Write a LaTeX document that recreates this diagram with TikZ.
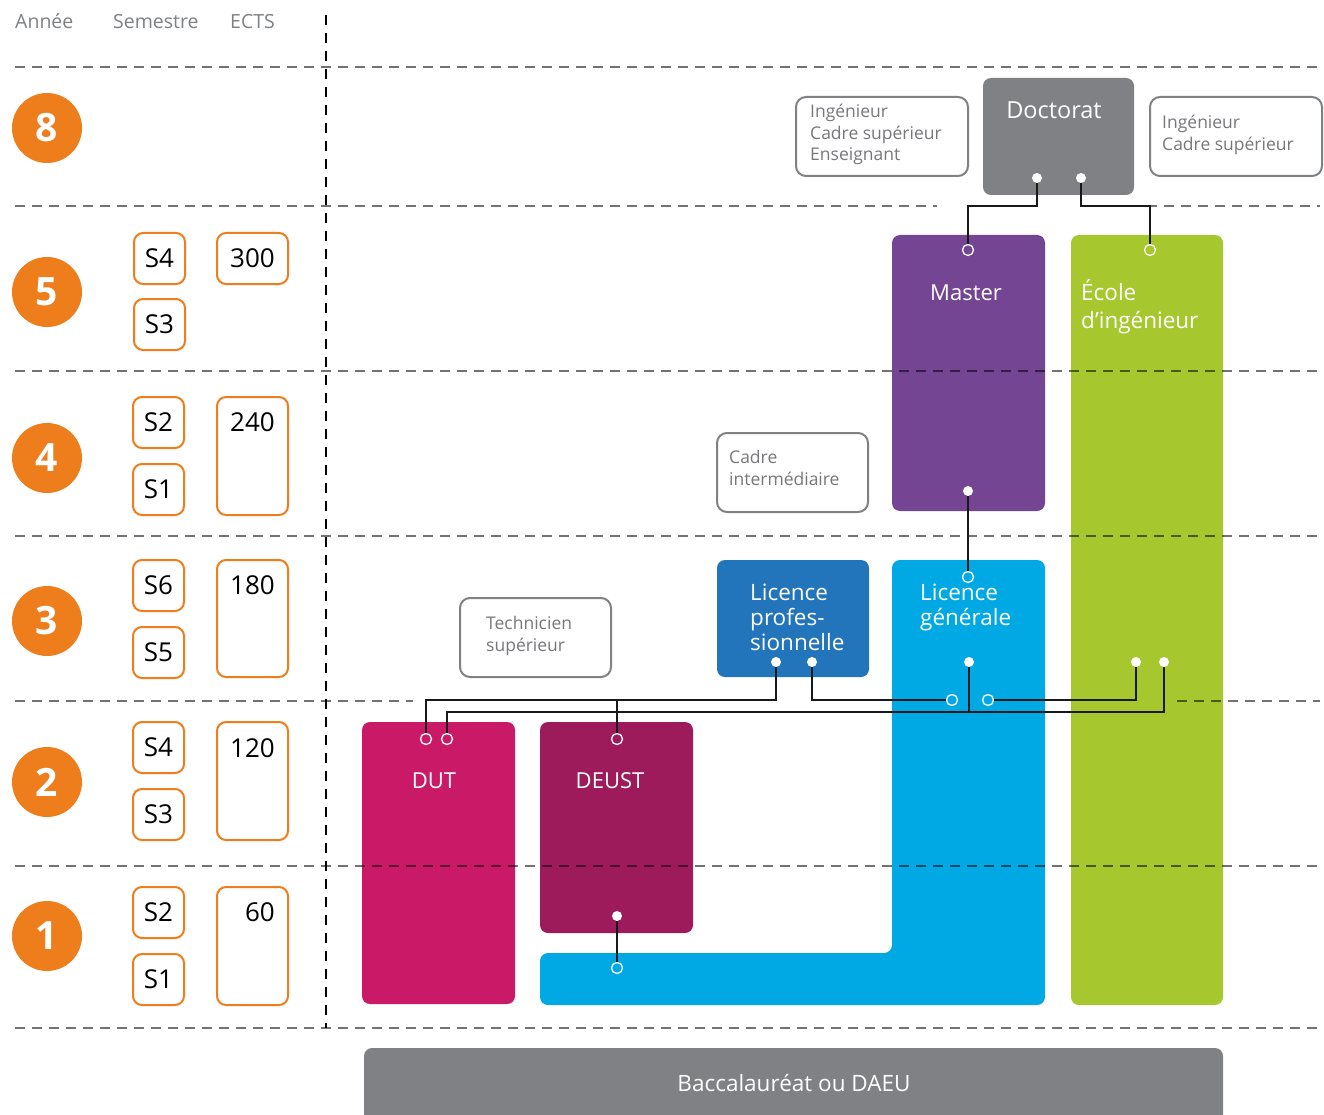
\documentclass[tikz,border=0pt]{standalone}
\usepackage{fontspec}
\setmainfont{Open Sans}
\usetikzlibrary{fit}
\definecolor{cgray}{HTML}{7F8184}
\definecolor{cpurple}{HTML}{744592}
\definecolor{cgreen}{HTML}{A6C72E}
\definecolor{cblue}{HTML}{2274BB}
\definecolor{ccyan}{HTML}{00A9E3}
\definecolor{cmag}{HTML}{CA1A67}
\definecolor{cwine}{HTML}{9D1B5A}
\definecolor{corange}{HTML}{EE7D1B}
\definecolor{ctext}{HTML}{77787B}
\newcommand\fsz[1]{\fontsize{#1}{#1}\selectfont}
\tikzset{
  dline/.style={draw=black, draw opacity=0.55, line width=1.5pt, dash pattern=on 10pt off 7pt},
  vline/.style={draw=black, line width=1.2pt, dash pattern=on 10pt off 8pt},
  yearc/.style={circle, fill=corange, minimum size=70pt, inner sep=0pt, text=white, font=\fsz{39}\bfseries},
  sbox/.style={draw=corange, line width=2pt, rounded corners=9pt, minimum width=51pt, minimum height=51pt, inner sep=0pt, font=\fsz{26}},
  ectsbox/.style={draw=corange, line width=2pt, rounded corners=9pt, inner sep=0pt},
  ectstxt/.style={anchor=base east, inner sep=0pt, font=\fsz{26}},
  colbox/.style={fill=#1, rounded corners=8pt, inner sep=0pt},
  outbox/.style={draw=cgray, line width=2pt, rounded corners=10pt, inner sep=0pt},
  outtxt/.style={anchor=base west, inner sep=0pt, text=ctext, font=\fsz{17.5}},
  headtxt/.style={anchor=base west, inner sep=0pt, text=cgray, font=\fsz{19.5}},
  wtxt/.style={anchor=base west, inner sep=0pt, text=white, font=\fsz{22.5}},
  wtxtc/.style={anchor=base, inner sep=0pt, text=white, font=\fsz{22}},
  dotf/.style={circle, fill=white, inner sep=0pt, minimum size=10pt},
  doto/.style={circle, draw=white, line width=1.3pt, inner sep=0pt, minimum size=11pt},
  conn/.style={draw=black!90, line width=1.8pt},
}
\begin{document}
\begin{tikzpicture}[x=1pt,y=-1pt]
\clip (0,0) rectangle (1324,1115);
\fill[white] (0,0) rectangle (1324,1115);

% header
\node[headtxt] (hA) at (15,29) {Année};
\node[headtxt] (hS) at (113,29) {Semestre};
\node[headtxt] (hE) at (230,29) {ECTS};

% year circles
\node[yearc] (y8) at (47,128) {8};
\node[yearc] (y5) at (47,292) {5};
\node[yearc] (y4) at (47,458) {4};
\node[yearc] (y3) at (47,621) {3};
\node[yearc] (y2) at (47,782) {2};
\node[yearc] (y1) at (47,936) {1};

% semesters
\node[sbox] (s5a) at (159.5,258.5) {S4};
\node[sbox] (s5b) at (159.5,324.5) {S3};
\node[sbox] (s4a) at (158.5,422.5) {S2};
\node[sbox] (s4b) at (158.5,489.5) {S1};
\node[sbox] (s3a) at (158.5,585.5) {S6};
\node[sbox] (s3b) at (158.5,652.5) {S5};
\node[sbox] (s2a) at (158.5,747.5) {S4};
\node[sbox] (s2b) at (158.5,814.5) {S3};
\node[sbox] (s1a) at (158.5,912.5) {S2};
\node[sbox] (s1b) at (158.5,979.5) {S1};

% ECTS
\node[ectsbox, fit={(217,233) (288,284)}] (e5) {};
\node[ectsbox, fit={(217,397) (288,515)}] (e4) {};
\node[ectsbox, fit={(217,560) (288,677)}] (e3) {};
\node[ectsbox, fit={(217,722) (288,840)}] (e2) {};
\node[ectsbox, fit={(217,887) (288,1005)}] (e1) {};
\node[ectstxt] (t5) at (275,268) {300};
\node[ectstxt] (t4) at (275,431) {240};
\node[ectstxt] (t3) at (275,594) {180};
\node[ectstxt] (t2) at (275,757) {120};
\node[ectstxt] (t1) at (275,921) {60};

% coloured boxes
\node[colbox=cgray, fit={(983,78) (1134,195)}] (doc) {};
\node[colbox=cpurple, fit={(892,235) (1045,511)}] (master) {};
\node[colbox=cgreen, fit={(1071,235) (1223,1005)}] (ecole) {};
\node[colbox=cblue, fit={(717,560) (869,677)}] (lp) {};
\node[colbox=cmag, fit={(362,722) (515,1004)}] (dut) {};
\node[colbox=cwine, fit={(540,722) (693,933)}] (deust) {};
\node[colbox=cgray, fit={(364,1048) (1223,1140)}] (bac) {};
\fill[ccyan, rounded corners=8pt] (892,560) -- (1045,560) -- (1045,1005) -- (540,1005) -- (540,953) -- (892,953) -- cycle;

% texts in coloured boxes
\node[wtxtc, font=\fsz{23.5}] (tdoc) at (1054,119) {Doctorat};
\node[wtxtc] (tmas) at (966,300) {Master};
\node[wtxt] (tec1) at (1081,300) {École};
\node[wtxt] (tec2) at (1081,328) {d’ingénieur};
\node[wtxt] (tlp1) at (750,600) {Licence};
\node[wtxt] (tlp2) at (750,625) {profes-};
\node[wtxt] (tlp3) at (750,650) {sionnelle};
\node[wtxt] (tlg1) at (920,600) {Licence};
\node[wtxt] (tlg2) at (920,625) {générale};
\node[wtxtc] (tdut) at (434,788) {DUT};
\node[wtxtc] (tdeu) at (610,788) {DEUST};
\node[wtxtc, font=\fsz{22.5}] (tbac) at (794,1091) {Baccalauréat ou DAEU};

% outline boxes
\node[outbox, fit={(796,97) (968,176)}] (ob1) {};
\node[outbox, fit={(1150,97) (1322,176)}] (ob2) {};
\node[outbox, fit={(717,433) (868,512)}] (ob3) {};
\node[outbox, fit={(460,598) (611,677)}] (ob4) {};
\node[outtxt] (o11) at (810,118) {Ingénieur};
\node[outtxt] (o12) at (810,140) {Cadre supérieur};
\node[outtxt] (o13) at (810,161) {Enseignant};
\node[outtxt] (o21) at (1162,129) {Ingénieur};
\node[outtxt] (o22) at (1162,151) {Cadre supérieur};
\node[outtxt] (o31) at (729,463) {Cadre};
\node[outtxt] (o32) at (729,485) {intermédiaire};
\node[outtxt] (o41) at (486,629) {Technicien};
\node[outtxt] (o42) at (486,651) {supérieur};

% dashed grid
\draw[vline] (326,15) -- (326,1028);
\draw[dline] (15,67) -- (1320,67);
\draw[dline] (15,206) -- (937,206);
\draw[dline] (1147,206) -- (1320,206);
\draw[dline] (15,371) -- (1320,371);
\draw[dline] (15,536) -- (1320,536);
\draw[dline] (15,701) -- (413,701);
\draw[dline] (1177,701) -- (1320,701);
\draw[dline] (15,866) -- (1320,866);
\draw[dline] (15,1028) -- (1320,1028);

% dots
\node[dotf] (dd1) at (1037,178) {};
\node[dotf] (dd2) at (1081,178) {};
\node[doto] (mo) at (968,250) {};
\node[dotf] (mf) at (968,491) {};
\node[doto] (eo) at (1150,250) {};
\node[dotf] (ef1) at (1136,662) {};
\node[dotf] (ef2) at (1164,662) {};
\node[dotf] (lpf1) at (776,662) {};
\node[dotf] (lpf2) at (812,662) {};
\node[doto] (lgo) at (968,577) {};
\node[dotf] (lgf) at (969,662) {};
\node[doto] (lgo1) at (952,700) {};
\node[doto] (lgo2) at (988,700) {};
\node[doto] (duo1) at (426,739) {};
\node[doto] (duo2) at (447,739) {};
\node[doto] (deo) at (617,739) {};
\node[dotf] (def) at (617,916) {};
\node[doto] (lgo3) at (617,968) {};

\coordinate (Y206) at (0,206);
\coordinate (Y700) at (0,700);
\coordinate (Y712) at (0,712);

% connectors
\draw[conn] (dd1) -- (dd1 |- Y206) -| (mo);
\draw[conn] (dd2) -- (dd2 |- Y206) -| (eo);
\draw[conn] (mf) -- (lgo);
\draw[conn] (lpf1) -- (lpf1 |- Y700) -| (duo1);
\draw[conn] (deo) -- (deo |- Y700);
\draw[conn] (lpf2) -- (lpf2 |- Y700) -- (lgo1);
\draw[conn] (ef1) -- (ef1 |- Y700) -- (lgo2);
\draw[conn] (duo2) -- (duo2 |- Y712) -| (ef2);
\draw[conn] (lgf) -- (lgf |- Y712);
\draw[conn] (def) -- (lgo3);
\end{tikzpicture}
\end{document}
